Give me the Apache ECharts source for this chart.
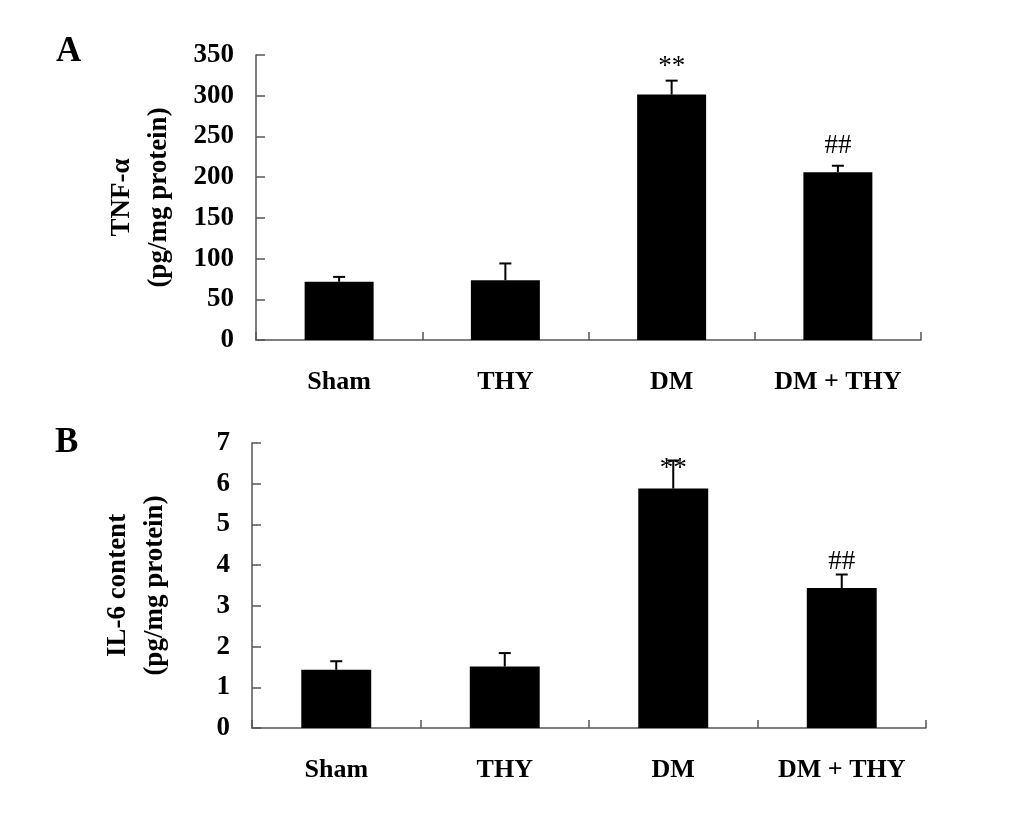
<!DOCTYPE html>
<html>
<head>
<meta charset="utf-8">
<script src="https://cdn.jsdelivr.net/npm/echarts@6/dist/echarts.min.js"></script>
<style>
  html, body { margin: 0; padding: 0; background: #fff; }
  #chart { width: 1033px; height: 821px; }
</style>
</head>
<body>
<div id="chart"></div>
<script>
// groups on the x axis
let groups = ['Sham', 'THY', 'DM', 'DM + THY'];

// panel A: TNF-α (pg/mg protein)
let tnfMean = [71.5, 73.5, 301.5, 206];
let tnfUpper = [77.5, 94, 318.5, 214];
let tnfMarks = ['', '', '**', '##'];

// panel B: IL-6 content (pg/mg protein)
let il6Mean = [1.43, 1.51, 5.88, 3.44];
let il6Upper = [1.64, 1.84, 6.57, 3.77];
let il6Marks = ['', '', '**', '##'];

const serif = '"Liberation Serif", "Times New Roman", serif';

// pixel offset of the significance mark above the whisker, per panel
const markOffset = [
    [0, 0, 14, 20],
    [0, 0, -8, 13]
];

function errorSeries(idx, mean, upper, marks) {
    return {
        type: 'custom',
        xAxisIndex: idx,
        yAxisIndex: idx,
        z: 5,
        data: mean.map((m, i) => [i, m, upper[i]]),
        renderItem: function (params, api) {
            const base = api.coord([api.value(0), api.value(1)]);
            const top = api.coord([api.value(0), api.value(2)]);
            const half = 6;
            const children = [
                { type: 'line', shape: { x1: top[0], y1: base[1], x2: top[0], y2: top[1] },
                  style: { stroke: '#000', lineWidth: 2 } },
                { type: 'line', shape: { x1: top[0] - half, y1: top[1], x2: top[0] + half, y2: top[1] },
                  style: { stroke: '#000', lineWidth: 2 } }
            ];
            const mark = marks[params.dataIndex];
            if (mark) {
                children.push({
                    type: 'text',
                    style: {
                        text: mark, x: top[0], y: top[1] - markOffset[idx][params.dataIndex],
                        align: 'center', verticalAlign: 'middle',
                        font: '27px ' + serif, fill: '#000'
                    }
                });
            }
            return { type: 'group', children: children };
        }
    };
}

function yAxisOf(idx, name, max, interval, gap) {
    return {
        type: 'value',
        gridIndex: idx,
        min: 0,
        max: max,
        interval: interval,
        name: name,
        nameLocation: 'middle',
        nameRotate: 90,
        nameGap: gap,
        nameTextStyle: { fontFamily: serif, fontWeight: 'bold', fontSize: 27, color: '#000', lineHeight: 37 },
        axisLine: { show: true, lineStyle: { color: '#555', width: 1.5 } },
        axisTick: { show: true, inside: true, length: 9, lineStyle: { color: '#555', width: 1.5 } },
        axisLabel: { margin: 22, fontFamily: serif, fontWeight: 'bold', fontSize: 27, color: '#000' },
        splitLine: { show: false }
    };
}

function xAxisOf(idx) {
    return {
        type: 'category',
        gridIndex: idx,
        data: groups,
        boundaryGap: true,
        axisLine: { show: true, lineStyle: { color: '#555', width: 1.5 } },
        axisTick: { show: true, inside: true, length: 8, lineStyle: { color: '#555', width: 1.5 } },
        axisLabel: { margin: 29, fontFamily: serif, fontWeight: 'bold', fontSize: 26, color: '#000' }
    };
}

let options = {
    backgroundColor: '#fff',
    animation: false,
    title: [
        { text: 'A', left: 51, top: 29, textStyle: { fontFamily: serif, fontWeight: 'bold', fontSize: 35, color: '#000' } },
        { text: 'B', left: 50, top: 420, textStyle: { fontFamily: serif, fontWeight: 'bold', fontSize: 35, color: '#000' } }
    ],
    grid: [
        { left: 256, right: 112, top: 55, height: 285 },
        { left: 252, right: 107, top: 443, height: 285 }
    ],
    xAxis: [xAxisOf(0), xAxisOf(1)],
    yAxis: [
        yAxisOf(0, 'TNF-α\n(pg/mg protein)', 350, 50, 78),
        yAxisOf(1, 'IL-6 content\n(pg/mg protein)', 7, 1, 78)
    ],
    series: [
        { type: 'bar', xAxisIndex: 0, yAxisIndex: 0, data: tnfMean, barWidth: '41.5%',
          itemStyle: { color: '#000' } },
        errorSeries(0, tnfMean, tnfUpper, tnfMarks),
        { type: 'bar', xAxisIndex: 1, yAxisIndex: 1, data: il6Mean, barWidth: '41.5%',
          itemStyle: { color: '#000' } },
        errorSeries(1, il6Mean, il6Upper, il6Marks)
    ]
};

let chart = echarts.init(document.getElementById('chart'));
chart.setOption(options);
</script>
</body>
</html>
